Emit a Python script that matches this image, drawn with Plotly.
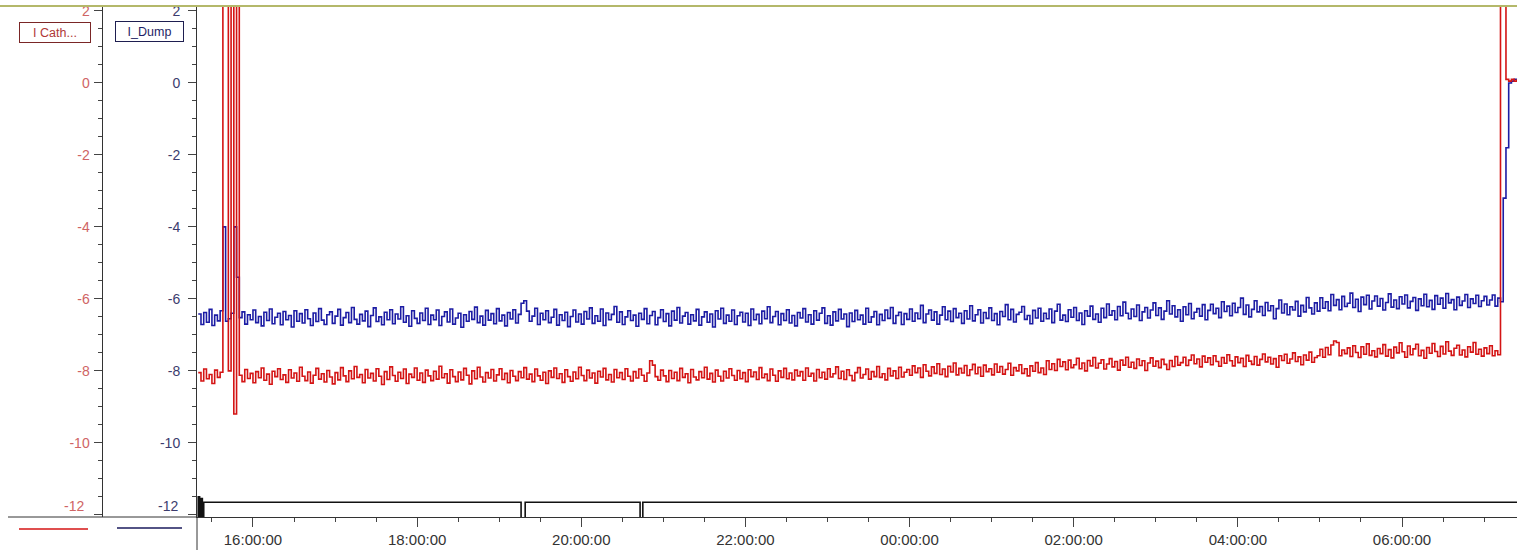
import pandas as pd
import plotly.graph_objects as go

# ---------------- data ----------------
series_start = "2010-03-04 15:20:00"   # first sample, one sample every 2 minutes
sample_step = "2min"

# I_Dump (blue), 2-minute samples from 15:20
i_dump = [
    -6.42,-6.71,-6.38,-6.65,-6.29,-6.74,-6.45,-6.61,-6.33,-4.00,
    -6.62,-6.55,-6.40,-4.00,-5.40,-6.52,-6.36,-6.70,-6.44,-6.58,
    -6.31,-6.66,-6.49,-6.75,-6.37,-6.60,-6.28,-6.69,-6.51,-6.40,
    -6.72,-6.35,-6.58,-6.46,-6.78,-6.33,-6.62,-6.41,-6.67,-6.30,
    -6.55,-6.74,-6.39,-6.63,-6.27,-6.59,-6.71,-6.44,-6.36,-6.68,
    -6.48,-6.29,-6.73,-6.52,-6.38,-6.66,-6.24,-6.57,-6.70,-6.43,
    -6.61,-6.34,-6.77,-6.46,-6.25,-6.63,-6.50,-6.72,-6.37,-6.58,
    -6.30,-6.69,-6.42,-6.56,-6.22,-6.65,-6.47,-6.76,-6.33,-6.54,
    -6.68,-6.39,-6.60,-6.26,-6.71,-6.45,-6.58,-6.31,-6.74,-6.49,
    -6.36,-6.64,-6.28,-6.70,-6.53,-6.40,-6.79,-6.44,-6.62,-6.35,
    -6.57,-6.23,-6.66,-6.48,-6.73,-6.32,-6.59,-6.41,-6.69,-6.27,
    -6.61,-6.45,-6.75,-6.38,-6.56,-6.30,-6.67,-6.43,-6.12,-6.05,
    -6.34,-6.62,-6.48,-6.26,-6.71,-6.40,-6.58,-6.33,-6.66,-6.51,
    -6.29,-6.73,-6.44,-6.60,-6.37,-6.77,-6.49,-6.31,-6.64,-6.42,
    -6.70,-6.35,-6.56,-6.25,-6.68,-6.47,-6.62,-6.28,-6.74,-6.39,
    -6.58,-6.43,-6.21,-6.65,-6.36,-6.71,-6.50,-6.33,-6.60,-6.45,
    -6.76,-6.40,-6.57,-6.27,-6.69,-6.46,-6.35,-6.72,-6.52,-6.30,
    -6.63,-6.41,-6.75,-6.34,-6.59,-6.24,-6.67,-6.48,-6.38,-6.70,
    -6.44,-6.61,-6.29,-6.73,-6.50,-6.36,-6.65,-6.42,-6.78,-6.33,
    -6.56,-6.26,-6.68,-6.45,-6.62,-6.31,-6.71,-6.47,-6.37,-6.64,
    -6.40,-6.74,-6.28,-6.58,-6.43,-6.69,-6.34,-6.55,-6.22,-6.66,
    -6.49,-6.35,-6.72,-6.41,-6.60,-6.30,-6.67,-6.46,-6.75,-6.38,
    -6.53,-6.27,-6.64,-6.44,-6.70,-6.33,-6.59,-6.40,-6.25,-6.68,
    -6.47,-6.73,-6.36,-6.61,-6.29,-6.56,-6.42,-6.77,-6.39,-6.63,
    -6.32,-6.58,-6.45,-6.70,-6.26,-6.65,-6.50,-6.35,-6.72,-6.43,
    -6.60,-6.31,-6.54,-6.24,-6.68,-6.46,-6.37,-6.71,-6.41,-6.57,
    -6.28,-6.62,-6.39,-6.55,-6.18,-6.66,-6.42,-6.31,-6.59,-6.36,
    -6.70,-6.45,-6.22,-6.58,-6.34,-6.63,-6.27,-6.52,-6.40,-6.68,
    -6.33,-6.56,-6.19,-6.61,-6.44,-6.30,-6.67,-6.38,-6.54,-6.25,
    -6.60,-6.41,-6.72,-6.35,-6.49,-6.16,-6.58,-6.29,-6.64,-6.43,
    -6.37,-6.21,-6.57,-6.46,-6.69,-6.32,-6.53,-6.26,-6.62,-6.40,
    -6.55,-6.28,-6.66,-6.34,-6.15,-6.59,-6.45,-6.63,-6.30,-6.51,
    -6.24,-6.60,-6.39,-6.71,-6.33,-6.48,-6.20,-6.57,-6.42,-6.65,
    -6.26,-6.52,-6.14,-6.45,-6.33,-6.58,-6.21,-6.47,-6.09,-6.40,
    -6.55,-6.28,-6.49,-6.17,-6.60,-6.36,-6.24,-6.53,-6.31,-6.11,
    -6.46,-6.25,-6.57,-6.34,-6.05,-6.42,-6.19,-6.50,-6.30,-6.62,
    -6.22,-6.44,-6.13,-6.55,-6.37,-6.27,-6.48,-6.16,-6.58,-6.32,
    -6.15,-6.41,-6.26,-6.52,-6.08,-6.35,-6.20,-6.47,-6.12,-6.38,
    -6.24,-5.98,-6.43,-6.17,-6.50,-6.29,-6.05,-6.36,-6.21,-6.46,
    -6.10,-6.33,-6.19,-6.55,-6.27,-6.03,-6.39,-6.14,-6.44,-6.22,
    -6.31,-6.07,-6.48,-6.18,-6.36,-5.96,-6.25,-6.42,-6.11,-6.34,
    -5.97,-6.26,-6.08,-6.33,-5.88,-6.18,-6.02,-6.30,-5.93,-6.21,
    -6.12,-5.84,-6.24,-6.01,-6.35,-5.95,-6.16,-5.90,-6.28,-6.06,
    -5.92,-6.20,-5.99,-6.31,-6.10,-5.86,-6.23,-6.03,-6.27,-5.94,
    -6.14,-5.89,-6.25,-6.07,-5.96,-6.32,-6.00,-6.19,-5.87,-6.22,
    -6.04,-6.29,-5.91,-6.15,-5.98,-6.26,-5.85,-6.11,-6.02,-6.30,
    -5.95,-6.18,-6.06,-5.88,-6.24,-6.00,-6.13,-5.90,-6.21,-6.05,
    -5.93,-6.17,-6.03,-5.89,-6.20,-5.98,-6.08,-3.20,-1.80,0.00,
    0.05,0.10,0.05,
]

# I Cath (red), 2-minute samples from 15:20 (60 = off-scale high)
i_cath = [
    -8.05,-8.28,-7.95,-8.22,-8.10,-8.35,-7.98,-8.18,-8.04,60,
    60,-8.00,60,-9.20,60,-8.12,-8.30,-7.96,-8.21,-8.07,
    -8.33,-8.02,-8.19,-7.92,-8.26,-8.09,-8.37,-8.01,-8.16,-7.94,
    -8.24,-8.11,-8.32,-7.97,-8.20,-8.06,-8.29,-7.90,-8.15,-8.27,
    -8.03,-8.34,-8.12,-7.93,-8.23,-8.08,-8.31,-7.99,-8.17,-8.36,
    -8.05,-8.25,-7.91,-8.14,-8.30,-8.00,-8.22,-7.88,-8.18,-8.10,
    -8.33,-7.96,-8.20,-8.07,-8.28,-7.94,-8.15,-8.38,-8.02,-8.24,
    -7.89,-8.13,-8.29,-8.04,-8.21,-7.95,-8.35,-8.09,-8.18,-7.92,
    -8.26,-8.06,-8.32,-7.98,-8.14,-8.27,-8.01,-8.23,-7.87,-8.19,
    -8.08,-8.34,-7.97,-8.16,-8.30,-8.03,-8.25,-7.93,-8.12,-8.36,
    -8.00,-8.22,-7.90,-8.17,-8.31,-8.05,-8.20,-7.96,-8.28,-8.11,
    -7.94,-8.24,-8.07,-8.33,-7.99,-8.15,-8.27,-8.02,-8.19,-7.91,
    -8.23,-8.09,-8.30,-7.95,-8.14,-8.26,-8.04,-8.35,-8.00,-8.18,
    -7.92,-8.21,-8.08,-8.32,-7.97,-8.16,-8.29,-8.03,-8.22,-7.90,
    -8.13,-8.27,-7.98,-8.20,-8.06,-8.34,-8.01,-8.17,-7.93,-8.25,
    -8.10,-8.31,-7.96,-8.19,-8.05,-8.24,-7.94,-8.15,-8.28,-8.02,
    -8.20,-7.95,-8.12,-8.29,-8.06,-7.72,-7.84,-8.16,-8.26,-7.98,
    -8.14,-8.30,-7.99,-8.21,-8.04,-8.27,-7.93,-8.18,-8.08,-8.33,
    -7.96,-8.17,-8.25,-8.02,-8.19,-7.90,-8.23,-8.07,-8.31,-7.98,
    -8.15,-8.28,-8.01,-8.20,-7.94,-8.13,-8.26,-7.99,-8.22,-8.05,
    -8.30,-7.97,-8.16,-8.03,-8.24,-7.91,-8.19,-8.09,-8.27,-7.95,
    -8.12,-8.29,-8.00,-8.18,-7.93,-8.22,-8.06,-8.25,-7.98,-8.14,
    -8.02,-8.26,-7.92,-8.15,-8.07,-8.28,-7.96,-8.19,-8.04,-8.23,
    -7.94,-8.17,-8.08,-7.89,-8.21,-8.01,-8.24,-7.97,-8.13,-8.27,
    -8.05,-7.91,-8.20,-8.10,-7.95,-8.23,-8.02,-8.16,-7.88,-8.18,
    -8.08,-8.25,-7.93,-8.14,-8.00,-8.21,-7.90,-8.17,-8.04,-7.96,
    -8.12,-7.86,-8.05,-7.92,-8.18,-7.83,-8.01,-8.14,-7.89,-8.07,
    -7.80,-8.10,-7.95,-8.16,-7.87,-8.03,-7.78,-8.11,-7.93,-8.06,
    -7.85,-8.13,-7.97,-7.82,-8.08,-7.90,-8.15,-7.84,-8.02,-7.94,
    -8.11,-7.81,-8.04,-7.88,-8.09,-7.96,-7.79,-8.12,-7.91,-8.00,
    -7.83,-8.07,-7.94,-8.14,-7.86,-8.01,-7.77,-8.05,-7.92,-8.10,
    -7.72,-7.96,-7.80,-7.99,-7.68,-7.88,-7.75,-7.97,-7.70,-7.91,
    -7.83,-7.65,-7.94,-7.78,-8.00,-7.71,-7.86,-7.63,-7.92,-7.79,
    -7.69,-7.95,-7.81,-7.66,-7.89,-7.74,-7.98,-7.70,-7.84,-7.62,
    -7.90,-7.76,-7.93,-7.67,-7.85,-7.72,-7.99,-7.78,-7.64,-7.87,
    -7.73,-7.91,-7.68,-7.82,-7.96,-7.71,-7.88,-7.60,-7.84,-7.77,
    -7.62,-7.85,-7.70,-7.56,-7.80,-7.67,-7.89,-7.59,-7.76,-7.64,
    -7.83,-7.58,-7.74,-7.87,-7.63,-7.79,-7.55,-7.72,-7.86,-7.61,
    -7.77,-7.65,-7.88,-7.57,-7.73,-7.82,-7.60,-7.84,-7.68,-7.53,
    -7.75,-7.62,-7.81,-7.66,-7.90,-7.58,-7.71,-7.54,-7.79,-7.67,
    -7.50,-7.74,-7.61,-7.83,-7.56,-7.70,-7.48,-7.76,-7.63,-7.58,
    -7.40,-7.62,-7.35,-7.55,-7.28,-7.17,-7.21,-7.58,-7.42,-7.52,
    -7.36,-7.60,-7.30,-7.49,-7.63,-7.33,-7.54,-7.25,-7.57,-7.44,
    -7.61,-7.38,-7.52,-7.27,-7.59,-7.41,-7.64,-7.34,-7.50,-7.22,
    -7.47,-7.62,-7.31,-7.55,-7.39,-7.26,-7.58,-7.43,-7.65,-7.35,
    -7.51,-7.24,-7.46,-7.60,-7.32,-7.53,-7.19,-7.45,-7.57,-7.37,
    -7.29,-7.56,-7.42,-7.61,-7.33,-7.48,-7.21,-7.54,-7.40,-7.59,
    -7.36,-7.52,-7.30,-7.58,-7.44,-7.55,60,60,0.10,0.05,
    0.10,0.05,0.10,
]

# digital status trace at the bottom
status_times = [
    "2010-03-04 15:19:00", "2010-03-04 15:20:00", "2010-03-04 15:21:00",
    "2010-03-04 15:22:00", "2010-03-04 15:23:00", "2010-03-04 15:24:00",
    "2010-03-04 19:16:00", "2010-03-04 19:19:00",
    "2010-03-04 20:43:00", "2010-03-04 20:45:00",
    "2010-03-05 07:25:00",
]
status_values = [-12.3, -11.5, -12.3, -11.55, -12.3, -11.65,
                 -12.3, -11.65, -12.3, -11.65, -11.65]

x_range = ["2010-03-04 15:19:05", "2010-03-05 07:24:04"]
y_range = [-12.06, 2.11]
y_tickvals = [-10, -8, -6, -4, -2, 0, 2]
y_ticktext = ["-10", "-8", "-6", "-4", "-2", "0", "2"]
y_bottom_label = "-12"
legend_names = ["I Cath...", "I_Dump"]

# ---------------- figure ----------------
W, H = 1517, 550
ML, MT, MB = 0, 7, 33
PH = H - MT - MB
def px(x):   # figure pixel -> paper x
    return x / W
def py(y):   # figure pixel -> paper y
    return 1 - (y - MT) / PH

FONT = "Liberation Sans"
RED = "#d41414"
BLUE = "#1c1ca4"
RED_LBL = "#cf6464"
BLUE_LBL = "#3c3c6e"

t_dump = pd.date_range(series_start, periods=len(i_dump), freq=sample_step)
t_cath = pd.date_range(series_start, periods=len(i_cath), freq=sample_step)

fig = go.Figure()
fig.add_trace(go.Scatter(x=t_cath, y=i_cath, mode="lines", line=dict(color=RED, width=1.6, shape="hv"),
                         yaxis="y2", name="I Cath", showlegend=False))
fig.add_trace(go.Scatter(x=t_dump, y=i_dump, mode="lines", line=dict(color=BLUE, width=1.6, shape="hv"),
                         yaxis="y", name="I_Dump", showlegend=False))
fig.add_trace(go.Scatter(x=pd.to_datetime(status_times), y=status_values, mode="lines",
                         line=dict(color="#111111", width=1.6, shape="hv"), yaxis="y", showlegend=False))

axis_common = dict(range=y_range, showgrid=False, zeroline=False, showline=True, linecolor="#333333",
                   linewidth=1, ticks="outside", ticklen=8, tickcolor="#444444",
                   tickmode="array", tickvals=y_tickvals + [-12], ticktext=y_ticktext + [""],
                   minor=dict(dtick=0.5, tick0=0, ticks="outside", ticklen=4, tickcolor="#444444"))

fig.update_layout(
    width=W, height=H, margin=dict(l=ML, r=0, t=MT, b=MB),
    paper_bgcolor="white", plot_bgcolor="white",
    font=dict(family=FONT),
    xaxis=dict(domain=[px(197), 1], type="date", range=x_range, showgrid=False, zeroline=False,
               showline=True, linecolor="#333333", ticks="outside", ticklen=9, tickcolor="#444444",
               tick0="2010-03-04 00:00:00", dtick=7200000, tickformat="%H:%M:%S",
               tickfont=dict(size=15, color="#333333"),
               minor=dict(dtick=1800000, ticks="outside", ticklen=4, tickcolor="#444444")),
    yaxis=dict(anchor="x", side="left", tickfont=dict(size=14, color=BLUE_LBL),
               ticklabelstandoff=5, **axis_common),
    yaxis2=dict(overlaying="y", anchor="free", position=px(101.5), side="left",
                tickfont=dict(size=14, color=RED_LBL), ticklabelstandoff=1, **axis_common),
)

shapes = [
    # olive top border
    dict(type="line", xref="paper", yref="paper", x0=0, x1=1, y0=py(6), y1=py(6),
         line=dict(color="#b4b86a", width=2)),
    # x-axis baseline extended under the y axes
    dict(type="line", xref="paper", yref="paper", x0=px(8), x1=px(197), y0=0, y1=0,
         line=dict(color="#333333", width=1)),
    # main y-axis line extended to the bottom edge
    dict(type="line", xref="paper", yref="paper", x0=px(197), x1=px(197), y0=py(550), y1=0,
         line=dict(color="#333333", width=1)),
    # legend swatches under the axes
    dict(type="line", xref="paper", yref="paper", x0=px(19), x1=px(88), y0=py(529), y1=py(529),
         line=dict(color=RED, width=1.5)),
    dict(type="line", xref="paper", yref="paper", x0=px(117), x1=px(182), y0=py(528), y1=py(528),
         line=dict(color="#1a1a5c", width=1.5)),
]
fig.update_layout(shapes=shapes)

# bottom "-12" labels sit a little above their ticks
fig.add_annotation(text=y_bottom_label, xref="paper", yref="paper", x=px(86), y=py(506),
                   showarrow=False, xanchor="right", yanchor="middle",
                   font=dict(size=14, color=RED_LBL, family=FONT))
fig.add_annotation(text=y_bottom_label, xref="paper", yref="paper", x=px(180), y=py(506),
                   showarrow=False, xanchor="right", yanchor="middle",
                   font=dict(size=14, color=BLUE_LBL, family=FONT))

fig.add_annotation(text=legend_names[0], xref="paper", yref="paper", x=px(54.5), y=py(32.5),
                   showarrow=False, xanchor="center", yanchor="middle",
                   font=dict(size=12.5, color="#b03838", family=FONT),
                   bordercolor="#7a2626", borderwidth=1, borderpad=2, bgcolor="white", width=66, height=15)
fig.add_annotation(text=legend_names[1], xref="paper", yref="paper", x=px(149.5), y=py(31),
                   showarrow=False, xanchor="center", yanchor="middle",
                   font=dict(size=12.5, color="#1e1e66", family=FONT),
                   bordercolor="#1e1e50", borderwidth=1, borderpad=2, bgcolor="white", width=63, height=15)

fig.write_html("out.html")
